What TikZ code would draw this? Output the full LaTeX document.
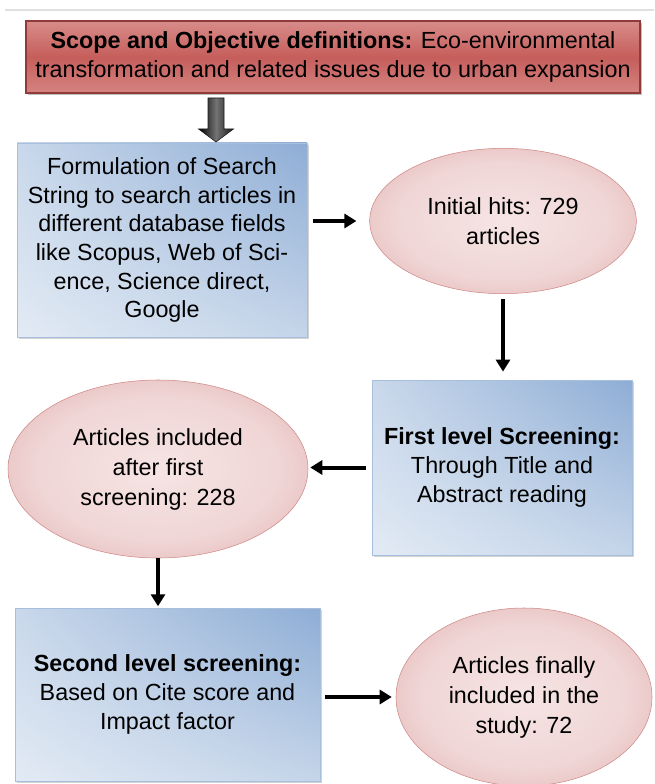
\documentclass[tikz,border=0pt]{standalone}
\usepackage{fontspec}
\setmainfont{Liberation Sans}
\usetikzlibrary{arrows.meta,positioning,calc,shapes.geometric,shadows,shadings}
\definecolor{redbox}{HTML}{C0504D}
\definecolor{redtop}{HTML}{D88C8A}
\definecolor{redline}{HTML}{8E3B39}
\definecolor{bluedark}{HTML}{8EADD5}
\definecolor{bluelight}{HTML}{E2EAF4}
\definecolor{blueline}{HTML}{A7BEDC}
\definecolor{pinkedge}{HTML}{D89E9C}
\definecolor{pinkmid}{HTML}{F6E4E4}
\definecolor{pinkline}{HTML}{D08886}
\pgfdeclareradialshading{blobshade}{\pgfpoint{0bp}{0bp}}{%
    color(0bp)=(pinkmid); color(20bp)=(pinkmid!80!pinkedge);
    color(38bp)=(pinkedge!80!pinkmid); color(50bp)=(pinkedge)}
\tikzset{
    scopebox/.style = {rectangle,
                    draw=redline,
                    top color=redtop,
                    bottom color=redtop!85!redbox,
                    middle color=redbox!92!white,
                    text=black,
                    thick,
                    inner sep=0pt,
                    align=center,
                    font=\fontsize{17.5}{21.5}\selectfont,
                    drop shadow={opacity=0.5,shadow xshift=1.5pt,shadow yshift=-1.5pt}},
    stepbox/.style = {rectangle,
                    draw=blueline,
                    upper right=bluedark,
                    upper left=bluelight!70!bluedark,
                    lower left=bluelight,
                    lower right=bluelight!65!bluedark,
                    text=black,
                    semithick,
                    inner sep=0pt,
                    align=center,
                    font=\fontsize{17.5}{21.5}\selectfont,
                    drop shadow={opacity=0.35,shadow xshift=1.5pt,shadow yshift=-1.5pt}},
    hitsblob/.style = {ellipse,
                    draw=pinkline,
                    shade,
                    shading=blobshade,
                    text=black,
                    thin,
                    inner sep=0pt,
                    align=center,
                    font=\fontsize{17.5}{22.5}\selectfont},
    bigarrow/.style = {draw=black!90,
                    left color=black,
                    right color=black!90,
                    middle color=black!55,
                    thin},
    flow/.style =   {line width=3pt,
                    -{Triangle[length=9pt,width=10.5pt]}},
    topline/.style = {draw=black!12,
                    line width=0.8pt}}

\begin{document}
\begin{tikzpicture}[x=0.75pt,y=-0.75pt]
    \useasboundingbox (0,0) rectangle (654,784);
    \draw[topline] (5,10) -- (654,10);
    \node[scopebox, minimum width=460.5pt, minimum height=54pt] (scope) at (333,57)
        {\textbf{Scope and Objective definitions:} Eco-environmental\\transformation and related issues due to urban expansion};
    \node[stepbox, minimum width=217.5pt, minimum height=145.5pt] (search) at (162,240)
        {Formulation of Search\\String to search articles in\\different database fields\\like Scopus, Web of Sci-\\ence, Science direct,\\Google};
    \node[hitsblob, minimum width=200pt, minimum height=109pt] (hits) at (503,221)
        {Initial hits: 729\\articles};
    \node[stepbox, minimum width=195pt, minimum height=131.25pt] (first) at (502,467.5)
        {\textbf{First level Screening:}\\Through Title and\\Abstract reading};
    \node[hitsblob, minimum width=225pt, minimum height=133.5pt] (incl) at (158,469)
        {Articles included\\after first\\screening: 228};
    \node[stepbox, minimum width=228.75pt, minimum height=129.75pt] (second) at (167.5,694.5)
        {\textbf{Second level screening:}\\Based on Cite score and\\Impact factor};
    \node[hitsblob, minimum width=192pt, minimum height=133.5pt] (final) at (524,697)
        {Articles finally\\included in the\\study: 72};
    % block arrow under the scope box
    \coordinate (down) at (216,98);
    \path[bigarrow] (down) ++(-8,0) -- ++(16,0) -- ++(0,31) -- ++(9.5,0)
        -- ++(-17.5,13) -- ++(-17.5,-13) -- ++(9.5,0) -- cycle;
    % arrows between the steps
    \path [flow] (search.east |- hits.west) edge [shorten <=4.5pt, shorten >=9.75pt] (hits.west)
                 (hits.south) edge [shorten <=3.75pt, shorten >=6pt] (hits.south |- first.north)
                 (first.west) edge [shorten <=4.5pt, shorten >=1.5pt] (first.west -| incl.east)
                 (incl.south) edge [shorten <=0pt, shorten >=1pt] (incl.south |- second.north)
                 (second.east |- final.west) edge [shorten <=3.75pt, shorten >=3pt] (final.west);
\end{tikzpicture}
\end{document}
